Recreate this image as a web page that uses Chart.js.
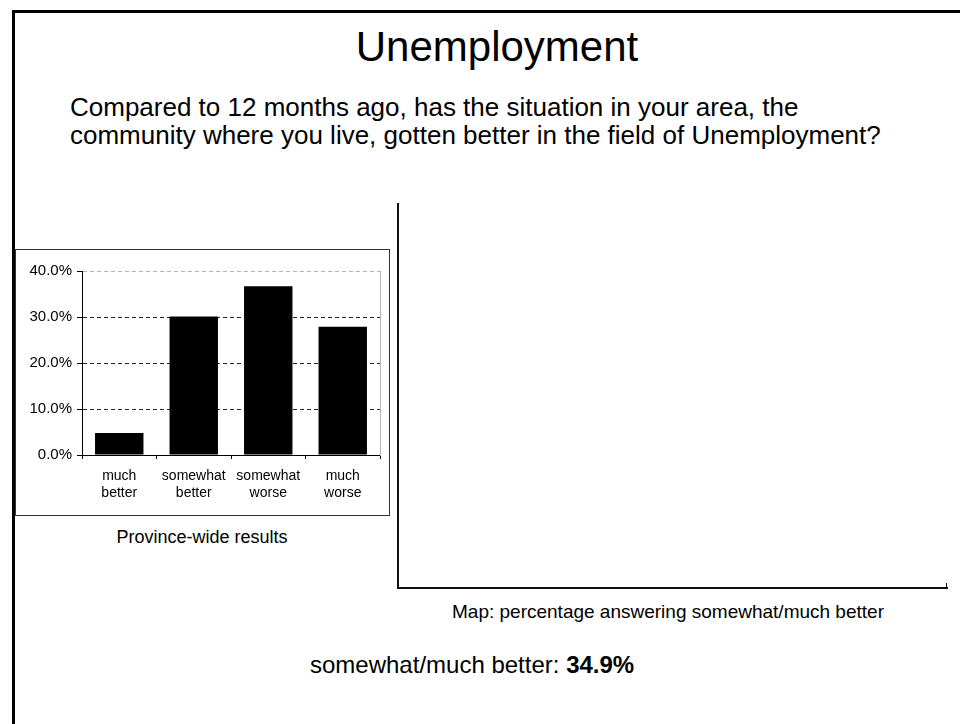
<!DOCTYPE html>
<html>
<head>
<meta charset="utf-8">
<script src="https://cdn.jsdelivr.net/npm/chart.js@4/dist/chart.umd.min.js"></script>
<style>
  html, body { margin: 0; padding: 0; background: #fff; }
  body { width: 960px; height: 724px; position: relative; overflow: hidden;
         font-family: "Liberation Sans", Arial, sans-serif; color: #000; }
  .abs { position: absolute; white-space: nowrap; }
  #frame { left: 12px; top: 10px; width: 960px; height: 730px;
           border-left: 3px solid #000; border-top: 3px solid #000; }
  #title { left: 0; width: 994px; top: 22px; line-height: 50px; font-size: 42px; text-align: center; }
  #question { left: 70px; top: 93px; line-height: 28px; font-size: 26px; }
  #chartBox { left: 15px; top: 249px; width: 373px; height: 265px; border: 1px solid #333; }
  #province { left: 15px; width: 374px; top: 526px; line-height: 22px; font-size: 18px; text-align: center; }
  #mapBox { left: 397px; top: 203px; width: 549px; height: 384px;
            border-left: 2px solid #111; border-bottom: 2px solid #111; }
  #mapTick { left: 946px; top: 583px; width: 1px; height: 6px; background: #111; }
  #mapCaption { left: 452px; top: 601px; line-height: 22px; font-size: 19px; }
  #summary { left: 310px; top: 650px; line-height: 30px; font-size: 24px; }
</style>
</head>
<body>
<div id="frame" class="abs"></div>
<div id="title" class="abs">Unemployment</div>
<div id="question" class="abs">Compared to 12 months ago, has the situation in your area, the<br>community where you live, gotten better in the field of Unemployment?</div>
<div id="chartBox" class="abs"><canvas id="plot" width="373" height="265"></canvas></div>
<div id="province" class="abs">Province-wide results</div>
<div id="mapBox" class="abs"></div>
<div id="mapTick" class="abs"></div>
<div id="mapCaption" class="abs">Map: percentage answering somewhat/much better</div>
<div id="summary" class="abs">somewhat/much better: <b>34.9%</b></div>
<script>
// answer categories (two-line labels) and province-wide shares in percent
const categories = [["much", "better"], ["somewhat", "better"], ["somewhat", "worse"], ["much", "worse"]];
const shares = [4.8, 30.1, 36.7, 27.9];
const yTickValues = [0, 10, 20, 30, 40];

const font = "'Liberation Sans', Arial, sans-serif";

const ctx = document.getElementById("plot").getContext("2d");

const data = {
    labels: categories,
    datasets: [{
        data: shares,
        backgroundColor: "#000",
        borderWidth: 0,
        barPercentage: 0.65,
        categoryPercentage: 1.0
    }]
};

const config = {
    type: "bar",
    data: data,
    options: {
        responsive: false,
        animation: false,
        layout: { padding: { top: 21, right: 9, left: 0, bottom: 0 } },
        plugins: { legend: { display: false }, tooltip: { enabled: false } },
        scales: {
            x: {
                grid: { offset: true, drawOnChartArea: false, tickLength: 4, tickColor: "#000" },
                border: { color: "#000", width: 1 },
                ticks: { color: "#000", padding: 8, maxRotation: 0, autoSkip: false,
                         font: { family: font, size: 14, lineHeight: 1.25 } },
                afterFit: (s) => { s.height = 60; }
            },
            y: {
                min: 0,
                max: 40,
                afterBuildTicks: (s) => { s.ticks = yTickValues.map(v => ({ value: v })); },
                grid: {
                    color: (c) => (c.tick && c.tick.value === 40 ? "#b5b5b5" : "#222"),
                    tickColor: "#000",
                    tickLength: 5
                },
                border: { color: "#000", width: 1, dash: [4, 3] },
                ticks: { color: "#000", padding: 5, font: { family: font, size: 15 },
                         callback: (v) => v.toFixed(1) + "%" },
                afterFit: (s) => { s.width = 66; }
            },
            y2: {
                position: "right",
                grid: { drawOnChartArea: false, drawTicks: false },
                border: { color: "#b5b5b5", width: 1 },
                ticks: { display: false },
                afterFit: (s) => { s.width = 0; }
            }
        }
    }
};

const plot = () => {
    let chartStatus = Chart.getChart("plot");
    if (chartStatus != undefined) {
        chartStatus.destroy();
    }
    new Chart(ctx, config);
};

plot();
</script>
</body>
</html>
